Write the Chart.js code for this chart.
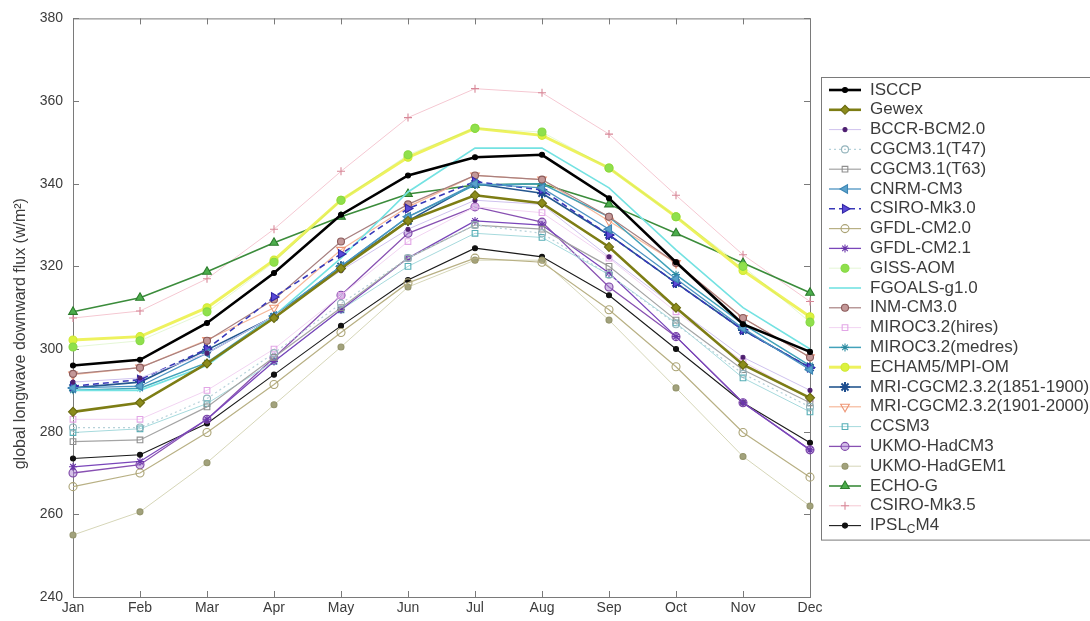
<!DOCTYPE html>
<html>
<head>
<meta charset="utf-8">
<script src="https://cdn.jsdelivr.net/npm/chart.js@4.4.1/dist/chart.umd.min.js"></script>
<style>
  html, body { margin: 0; padding: 0; background: #ffffff; }
  #wrap { width: 1090px; height: 621px; position: relative; }
</style>
</head>
<body>
<div id="wrap"><canvas id="c" width="1090" height="621"></canvas></div>
<script>
// Monthly climatology of global longwave downward flux (W/m2)
const months = ['Jan','Feb','Mar','Apr','May','Jun','Jul','Aug','Sep','Oct','Nov','Dec'];
const yTicks = [240, 260, 280, 300, 320, 340, 360, 380];
const yTitle = 'global longwave downward flux (w/m\u00B2)';

const isccp      = [296.0, 297.4, 306.3, 318.4, 332.5, 342.0, 346.4, 347.0, 336.5, 321.0, 306.0, 299.3];
const gewex      = [284.8, 287.0, 296.5, 307.5, 319.5, 331.0, 337.2, 335.3, 324.7, 310.0, 296.2, 288.2];
const bccrBcm20  = [292.0, 293.0, 299.0, 308.0, 319.0, 329.0, 336.0, 335.0, 322.3, 310.0, 298.0, 290.0];
const cgcmT47    = [281.0, 281.0, 288.0, 299.0, 311.0, 322.0, 330.0, 328.0, 318.0, 306.0, 294.0, 286.0];
const cgcmT63    = [277.6, 278.0, 286.0, 298.0, 310.0, 322.0, 330.0, 329.0, 320.0, 307.0, 295.0, 287.0];
const cnrmCm3    = [290.6, 291.0, 299.0, 308.0, 320.0, 332.0, 340.0, 339.0, 329.0, 317.0, 305.0, 295.0];
const csiroMk30  = [291.0, 292.6, 300.0, 312.6, 323.0, 334.0, 340.5, 338.5, 327.6, 316.0, 304.6, 295.5];
const gfdlCm20   = [266.7, 270.0, 279.8, 291.4, 304.0, 316.0, 322.0, 321.0, 309.5, 295.7, 279.8, 269.0];
const gfdlCm21   = [271.5, 272.8, 283.0, 297.0, 309.5, 322.0, 331.0, 330.0, 318.4, 303.0, 287.0, 275.6];
const gissAom    = [300.5, 302.0, 309.0, 321.0, 336.0, 347.0, 353.4, 352.5, 343.8, 332.0, 320.0, 306.5];
const fgoalsG10  = [290.0, 290.0, 296.0, 308.0, 322.0, 338.0, 348.6, 348.6, 339.0, 324.0, 310.0, 300.0];
const inmCm30    = [294.0, 295.5, 302.0, 312.0, 326.0, 335.0, 342.0, 341.0, 332.0, 320.8, 307.5, 298.0];
const mirocHires = [283.0, 283.0, 290.0, 300.0, 313.0, 326.0, 334.4, 333.0, 322.0, 309.0, 297.0, 288.0];
const mirocMedres= [290.0, 290.5, 296.7, 308.0, 320.0, 332.0, 339.7, 340.0, 332.0, 318.0, 306.0, 296.0];
const echam5     = [302.2, 303.0, 310.0, 321.5, 336.0, 346.4, 353.4, 351.7, 343.8, 332.0, 319.0, 307.8];
const mri1851    = [290.6, 292.0, 299.8, 307.8, 320.0, 331.0, 340.0, 337.7, 327.6, 316.0, 304.6, 295.5];
const mri1901    = [293.8, 295.5, 302.2, 310.0, 324.0, 334.4, 342.0, 341.0, 331.0, 320.8, 307.5, 298.0];
const ccsm3      = [279.8, 280.7, 286.8, 297.0, 309.5, 320.0, 328.0, 327.0, 318.0, 306.3, 293.0, 284.8];
const ukmoHadcm3 = [270.0, 272.0, 283.0, 297.9, 313.0, 328.0, 334.4, 330.7, 315.0, 303.0, 287.0, 275.6];
const ukmoHadgem1= [255.0, 260.6, 272.5, 286.5, 300.5, 315.0, 321.5, 321.5, 307.0, 290.6, 274.0, 262.0];
const echoG      = [309.0, 312.4, 318.7, 325.7, 332.0, 337.5, 339.7, 340.0, 335.0, 328.0, 320.8, 313.6];
const csiroMk35  = [307.5, 309.2, 317.0, 329.0, 343.0, 356.0, 363.0, 362.0, 352.0, 337.2, 322.8, 311.5];
const ipslCm4    = [273.5, 274.4, 282.0, 293.8, 305.6, 316.7, 324.4, 322.3, 313.0, 300.0, 287.0, 277.3];

// Series definitions: name, values, and drawing style
const series = [
  { label: 'ISCCP', data: isccp, line: '#000000', width: 2.6, style: 'circle', r: 2.5, fill: '#000000', edge: '#000000' },
  { label: 'Gewex', data: gewex, line: '#7d7d14', width: 2.6, style: 'rectRot', r: 4.5, fill: '#8c8c1c', edge: '#6a6a10' },
  { label: 'BCCR-BCM2.0', data: bccrBcm20, line: '#cfc2ee', width: 1, style: 'circle', r: 2, fill: '#4e1f70', edge: '#4e1f70' },
  { label: 'CGCM3.1(T47)', data: cgcmT47, line: '#b6d2da', width: 1.2, dash: [2, 3], style: 'circle', r: 3.5, fill: 'rgba(255,255,255,0)', edge: '#94b4bc' },
  { label: 'CGCM3.1(T63)', data: cgcmT63, line: '#a4a4a4', width: 1.2, style: 'rect', r: 4, fill: 'rgba(255,255,255,0)', edge: '#8e8e8e' },
  { label: 'CNRM-CM3', data: cnrmCm3, line: '#4d94c2', width: 1.3, style: 'triangle', rot: -90, r: 5, fill: '#5aa2cc', edge: '#3e86b4' },
  { label: 'CSIRO-Mk3.0', data: csiroMk30, line: '#3838b8', width: 1.6, dash: [6, 4], style: 'triangle', rot: 90, r: 5, fill: '#5a4ad8', edge: '#3226a6' },
  { label: 'GFDL-CM2.0', data: gfdlCm20, line: '#b8b084', width: 1.2, style: 'circle', r: 4, fill: 'rgba(255,255,255,0)', edge: '#aaa274' },
  { label: 'GFDL-CM2.1', data: gfdlCm21, line: '#7a46ba', width: 1.3, style: 'star', r: 4, fill: '#7a46ba', edge: '#6a36aa' },
  { label: 'GISS-AOM', data: gissAom, line: 'rgba(150,225,90,0.25)', width: 1, style: 'circle', r: 4, fill: '#8fe04c', edge: '#86d844' },
  { label: 'FGOALS-g1.0', data: fgoalsG10, line: '#74e2e2', width: 1.6, style: 'circle', r: 0, fill: '#74e2e2', edge: '#74e2e2' },
  { label: 'INM-CM3.0', data: inmCm30, line: '#a88080', width: 1.2, style: 'circle', r: 3.5, fill: '#c49898', edge: '#8c5c5c' },
  { label: 'MIROC3.2(hires)', data: mirocHires, line: '#f2d4f2', width: 1, style: 'rect', r: 4, fill: 'rgba(255,255,255,0)', edge: '#e2a6e6' },
  { label: 'MIROC3.2(medres)', data: mirocMedres, line: '#42a2ba', width: 1.5, style: 'star', r: 4, fill: '#2a8aa0', edge: '#2a8aa0' },
  { label: 'ECHAM5/MPI-OM', data: echam5, line: '#eef25e', width: 3, style: 'circle', r: 4, fill: '#dcf23e', edge: '#cfe836' },
  { label: 'MRI-CGCM2.3.2(1851-1900)', data: mri1851, line: '#24568f', width: 1.6, style: 'star', r: 5, fill: '#24568f', edge: '#1f4f8f', bw: 2 },
  { label: 'MRI-CGCM2.3.2(1901-2000)', data: mri1901, line: '#f6b89a', width: 1.2, style: 'triangle', rot: 180, r: 5, fill: 'rgba(255,255,255,0)', edge: '#ee9676' },
  { label: 'CCSM3', data: ccsm3, line: '#a6dadd', width: 1, style: 'rect', r: 4, fill: 'rgba(255,255,255,0)', edge: '#56aeb6' },
  { label: 'UKMO-HadCM3', data: ukmoHadcm3, line: '#8850b2', width: 1.3, style: 'circle', r: 4, fill: 'rgba(170,130,210,0.5)', edge: '#7c44a6' },
  { label: 'UKMO-HadGEM1', data: ukmoHadgem1, line: '#d6d6b8', width: 1, style: 'circle', r: 3, fill: '#a2a27c', edge: '#96966e' },
  { label: 'ECHO-G', data: echoG, line: '#3b8c3b', width: 1.6, style: 'triangle', r: 5, fill: '#4cae4c', edge: '#2c7c2c' },
  { label: 'CSIRO-Mk3.5', data: csiroMk35, line: '#f5c8d2', width: 1, style: 'cross', r: 4, fill: '#d88898', edge: '#d88898' },
  { label: 'IPSL_CM4', data: ipslCm4, line: '#1a1a1a', width: 1.1, style: 'circle', r: 2.5, fill: '#111111', edge: '#111111' }
];

const datasets = series.map(s => ({
  label: s.label,
  data: s.data,
  borderColor: s.line,
  borderWidth: s.width,
  borderDash: s.dash || [],
  pointStyle: s.style,
  pointRotation: s.rot || 0,
  pointRadius: s.r,
  pointHoverRadius: s.r,
  pointBackgroundColor: s.fill,
  pointBorderColor: s.edge,
  pointBorderWidth: s.bw || 1.1,
  tension: 0,
  fill: false,
  clip: false
}));

const AXIS_COLOR = '#7a7a7a';
const TEXT_COLOR = '#3c3c3c';
const FONT = '"Liberation Sans", Arial, sans-serif';

// Box frame round the axes plus inward tick marks on all four sides
const framePlugin = {
  id: 'frame',
  beforeDatasetsDraw(chart) {
    const { ctx, chartArea: a, scales } = chart;
    ctx.save();
    ctx.strokeStyle = AXIS_COLOR;
    ctx.lineWidth = 1;
    ctx.strokeRect(a.left + 0.5, a.top + 0.5, a.right - a.left, a.bottom - a.top);
    const len = 6;
    ctx.beginPath();
    scales.y.ticks.forEach(t => {
      const y = Math.round(scales.y.getPixelForValue(t.value)) + 0.5;
      ctx.moveTo(a.left, y); ctx.lineTo(a.left + len, y);
      ctx.moveTo(a.right, y); ctx.lineTo(a.right - len, y);
    });
    scales.x.ticks.forEach((t, i) => {
      const x = Math.round(scales.x.getPixelForTick(i)) + 0.5;
      ctx.moveTo(x, a.bottom); ctx.lineTo(x, a.bottom - len);
      ctx.moveTo(x, a.top); ctx.lineTo(x, a.top + len);
    });
    ctx.stroke();

    // vertical axis title, set a little below the axis midpoint
    ctx.fillStyle = TEXT_COLOR;
    ctx.font = '16px ' + FONT;
    ctx.textAlign = 'center';
    ctx.textBaseline = 'middle';
    ctx.translate(21, (a.top + a.bottom) / 2 + 26);
    ctx.rotate(-Math.PI / 2);
    ctx.fillText(yTitle, 0, 0);
    ctx.restore();
  }
};

// Boxed legend to the right of the axes
const legendBox = {
  id: 'legendBox',
  afterDraw(chart) {
    const { ctx } = chart;
    const x0 = 821, y0 = 77, rowH = 19.8, firstRow = 90;
    const boxBottom = firstRow + rowH * (chart.data.datasets.length - 1) + 14;
    const size = 17;
    ctx.save();
    ctx.fillStyle = '#ffffff';
    ctx.fillRect(x0, y0, 1090 - x0 + 10, boxBottom - y0);
    ctx.strokeStyle = AXIS_COLOR;
    ctx.lineWidth = 1;
    ctx.strokeRect(x0 + 0.5, y0 + 0.5, 1090 - x0 + 10, boxBottom - y0);
    ctx.font = size + 'px ' + FONT;
    ctx.textBaseline = 'middle';
    chart.data.datasets.forEach((ds, i) => {
      const y = firstRow + i * rowH;
      ctx.save();
      ctx.strokeStyle = ds.borderColor;
      ctx.lineWidth = ds.borderWidth;
      ctx.setLineDash(ds.borderDash || []);
      ctx.beginPath();
      ctx.moveTo(829, y); ctx.lineTo(861, y);
      ctx.stroke();
      ctx.setLineDash([]);
      if (ds.pointRadius > 0) {
        ctx.fillStyle = ds.pointBackgroundColor;
        ctx.strokeStyle = ds.pointBorderColor;
        ctx.lineWidth = ds.pointBorderWidth;
        Chart.helpers.drawPoint(ctx, {
          pointStyle: ds.pointStyle,
          rotation: ds.pointRotation,
          radius: ds.pointRadius,
          borderWidth: ds.pointBorderWidth
        }, 845, y);
      }
      ctx.restore();
      ctx.fillStyle = TEXT_COLOR;
      const sub = ds.label.indexOf('_');
      if (sub < 0) {
        ctx.fillText(ds.label, 870, y);
      } else {
        // TeX-style subscript for the character after '_'
        const head = ds.label.slice(0, sub);
        const subChar = ds.label.charAt(sub + 1);
        const tail = ds.label.slice(sub + 2);
        let x = 870;
        ctx.fillText(head, x, y); x += ctx.measureText(head).width;
        ctx.font = '12px ' + FONT;
        ctx.fillText(subChar, x, y + 4); x += ctx.measureText(subChar).width;
        ctx.font = size + 'px ' + FONT;
        ctx.fillText(tail, x, y);
      }
    });
    ctx.restore();
  }
};

new Chart(document.getElementById('c'), {
  type: 'line',
  data: { labels: months, datasets },
  options: {
    responsive: false,
    animation: false,
    devicePixelRatio: 1,
    layout: { padding: { top: 18, right: 280, bottom: 0, left: 0 } },
    plugins: { legend: { display: false }, tooltip: { enabled: false } },
    scales: {
      x: {
        type: 'category',
        offset: false,
        grid: { display: false, drawTicks: false },
        border: { display: false },
        ticks: { color: TEXT_COLOR, font: { size: 14, family: FONT }, padding: 3, maxRotation: 0, autoSkip: false },
        afterFit(scale) { scale.height = 24; }
      },
      y: {
        min: 240,
        max: 380,
        afterBuildTicks(scale) { scale.ticks = yTicks.map(v => ({ value: v })); },
        grid: { display: false, drawTicks: false },
        border: { display: false },
        ticks: { color: TEXT_COLOR, font: { size: 14, family: FONT }, padding: 10 },
        afterFit(scale) { scale.width = 73; }
      }
    }
  },
  plugins: [framePlugin, legendBox]
});
</script>
</body>
</html>
